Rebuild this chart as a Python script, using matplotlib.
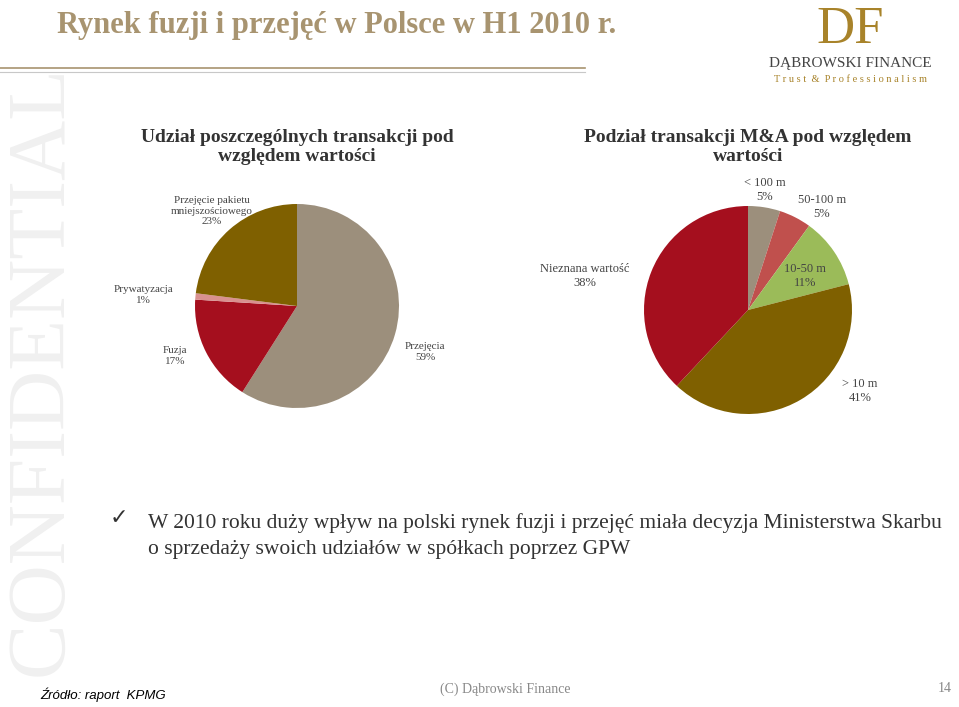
import matplotlib
matplotlib.use("Agg")
import matplotlib.pyplot as plt

left_labels = ["Przejęcia\n59%", "Fuzja\n17%", "Prywatyzacja\n1%", "Przejęcie pakietu\nmniejszościowego\n23%"]
left_values = [59, 17, 1, 23]
left_colors = ["#9c8f7c", "#a50f1e", "#d9918f", "#7f6000"]

right_labels = ["< 100 m\n5%", "50-100 m\n5%", "10-50 m\n11%", "> 10 m\n41%", "Nieznana wartość\n38%"]
right_values = [5, 5, 11, 41, 38]
right_colors = ["#9c8f7c", "#c0504d", "#9bbb59", "#7f6000", "#a50f1e"]

W, H = 959, 707
fig = plt.figure(figsize=(W/100, H/100), dpi=100)
fig.patch.set_facecolor("white")
serif = "Liberation Serif"

def fx(x): return x / W
def fy(y): return 1 - y / H

fig.text(fx(42), fy(370), "CONFIDENTIAL", rotation=90, fontsize=60, family=serif,
         color="#f0f0f0", ha="center", va="center")

fig.text(fx(57), fy(26), "Rynek fuzji i przejęć w Polsce w H1 2010 r.", fontsize=22,
         family=serif, color="#a89470", fontweight="bold", ha="left", va="center")
fig.add_artist(plt.Line2D([fx(0), fx(585)], [fy(68), fy(68)], color="#a89470", lw=1.2))
fig.add_artist(plt.Line2D([fx(0), fx(585)], [fy(72), fy(72)], color="#c8c8c8", lw=0.8))

fig.text(fx(850), fy(30), "DF", fontsize=38, family=serif, color="#a8832a", ha="center", va="center")
fig.text(fx(850), fy(64), "DĄBROWSKI FINANCE", fontsize=11, family=serif, color="#444444", ha="center", va="center")
fig.text(fx(850), fy(79), "T r u s t  &  P r o f e s s i o n a l i s m", fontsize=7.5, family=serif,
         color="#a8832a", ha="center", va="center")

def pie(cx, cy, r, vals, cols):
    ax = fig.add_axes([fx(cx - r), fy(cy + r), 2*r/W, 2*r/H])
    ax.pie(vals, colors=cols, startangle=90, counterclock=False, radius=1)
    ax.set_xlim(-1, 1); ax.set_ylim(-1, 1)
    ax.set_aspect("auto"); ax.axis("off")

pie(297, 306, 102, left_values, left_colors)
fig.text(fx(297), fy(147), "Udział poszczególnych transakcji pod\nwzględem wartości", fontsize=14,
         family=serif, fontweight="bold", color="#333333", ha="center", va="center", linespacing=1.1)
lpos = [(425, 352), (175, 356), (143, 295), (212, 211)]
for (x, y), t in zip(lpos, left_labels):
    fig.text(fx(x), fy(y), t, fontsize=8, family=serif, color="#444444", ha="center", va="center")

pie(748, 310, 104, right_values, right_colors)
fig.text(fx(748), fy(147), "Podział transakcji M&A pod względem\nwartości", fontsize=14,
         family=serif, fontweight="bold", color="#333333", ha="center", va="center", linespacing=1.1)
rpos = [(765, 190), (822, 207), (805, 276), (860, 391), (585, 276)]
for (x, y), t in zip(rpos, right_labels):
    fig.text(fx(x), fy(y), t, fontsize=9, family=serif, color="#444444", ha="center", va="center")

fig.text(fx(110), fy(518), "✓", fontsize=16, family="DejaVu Sans", color="#333333", ha="left", va="center")
fig.text(fx(148), fy(536), "W 2010 roku duży wpływ na polski rynek fuzji i przejęć miała decyzja Ministerstwa Skarbu\no sprzedaży swoich udziałów w spółkach poprzez GPW",
         fontsize=15.5, family=serif, color="#333333", ha="left", va="center", linespacing=1.45)

fig.text(fx(40), fy(695), "Źródło: raport  KPMG", fontsize=9.5, style="italic", family="Liberation Sans",
         color="#000000", ha="left", va="center")
fig.text(fx(505), fy(689), "(C) Dąbrowski Finance", fontsize=10, family=serif, color="#888888", ha="center", va="center")
fig.text(fx(945), fy(689), "14", fontsize=10, family=serif, color="#888888", ha="center", va="center")

fig.savefig("out.png", dpi=100)
